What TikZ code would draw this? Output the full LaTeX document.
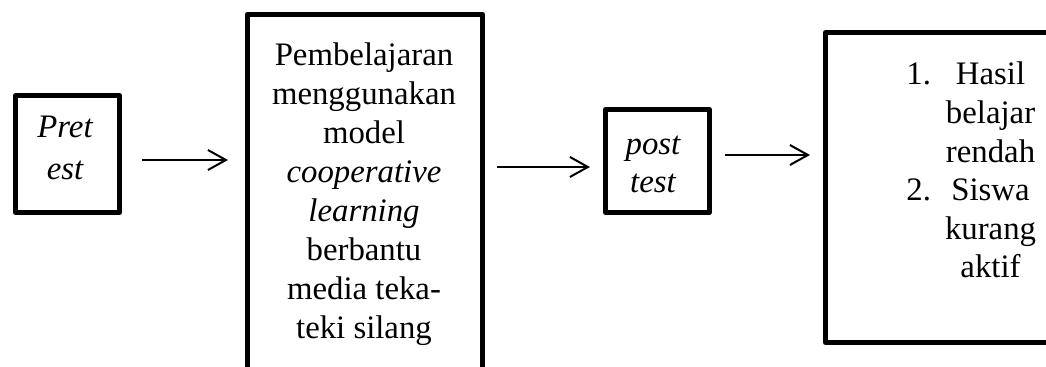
\documentclass[tikz,border=0pt]{standalone}
\usepackage{fontspec}
\setmainfont{Liberation Serif}
\usetikzlibrary{arrows.meta}

% centred stack of lines whose baseline is the first line's baseline
\newcommand\stacklines[2][19.5pt]{\vtop{\baselineskip=#1\relax\lineskiplimit=-10pt\halign{\hfil##\hfil\cr#2\crcr}}}

\begin{document}
\begin{tikzpicture}[x=0.5pt,y=-0.5pt,
  frame/.style={draw=black,line width=2.5pt,line join=round,fill=white,inner sep=0pt},
  txt/.style={inner sep=0pt,anchor=base,font=\fontsize{16.4}{19.5}\selectfont},
  arr/.style={line width=1pt,-{Straight Barb[length=9pt,width=10pt,line width=1pt]}}]
\useasboundingbox (0,0) rectangle (1046,367);
\clip (0,0) rectangle (1046,367);

% boxes
\node[frame,minimum width=52pt,minimum height=58.5pt] (pre) at (67.5,154) {};
\node[frame,minimum width=117.5pt,minimum height=182.75pt] (learn) at (365,197) {};
\node[frame,minimum width=52pt,minimum height=51.5pt] (post) at (657.5,161) {};
\node[frame,minimum width=142.25pt,minimum height=155pt] (result) at (967.75,187.5) {};

% texts
\node[txt] (pretxt) at (65,138) {\stacklines[21pt]{\itshape Pret\cr\itshape est}};
\node[txt] (learntxt) at (364,66) {\stacklines{Pembelajaran\cr menggunakan\cr model\cr \itshape cooperative\cr \itshape learning\cr berbantu\cr media teka-\cr teki silang}};
\node[txt] (posttxt) at (653,155) {\stacklines[19pt]{\itshape post\cr\itshape test}};
\node[txt,anchor=base west] (resulttxt) at (906,85) {\vtop{\baselineskip=19.3pt\relax\halign{#\hskip 7pt&\hfil#\hfil\cr 1.&Hasil\cr &belajar\cr &rendah\cr 2.&Siswa\cr &kurang\cr &aktif\crcr}}};

% connectors
\draw[arr] ([shift={(20,6)}]pre.east) -- ([shift={(-17,-37)}]learn.west);
\draw[arr] ([shift={(12,-30)}]learn.east) -- ([shift={(-13,6)}]post.west);
\draw[arr] ([shift={(13,-6)}]post.east) -- ([shift={(-13,-32.5)}]result.west);
\end{tikzpicture}
\end{document}
